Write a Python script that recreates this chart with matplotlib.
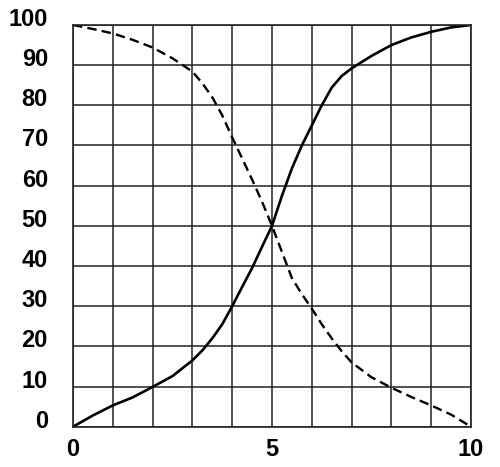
import matplotlib.pyplot as plt
import matplotlib.transforms as mtransforms

x_rise = [0, 0.5, 1, 1.5, 2, 2.5, 3, 3.25, 3.5, 3.75, 4, 4.25, 4.5, 4.75, 5,
          5.25, 5.5, 5.75, 6, 6.25, 6.5, 6.75, 7, 7.5, 8, 8.5, 9, 9.5, 10]
rising = [0, 2.8, 5.3, 7.3, 9.9, 12.6, 16.5, 19, 22, 25.5, 30, 34.8, 39.5, 44.8, 50,
          57.5, 64.3, 70, 75, 80, 84.4, 87.3, 89.2, 92.3, 95, 96.9, 98.3, 99.4, 100]

x_fall = [0, 0.5, 1, 1.5, 2, 2.5, 3, 3.25, 3.5, 3.75, 4, 4.25, 4.5, 4.75, 5,
          5.25, 5.5, 5.75, 6, 6.25, 6.5, 6.75, 7, 7.5, 8, 8.5, 9, 9.5, 10]
falling = [100, 99, 97.9, 96.3, 94.4, 91.7, 88.4, 85.5, 82, 77.5, 72, 66.8, 61.5, 56, 50,
           43.5, 37, 33, 29.4, 25.5, 22, 18.8, 16, 12.3, 9.7, 7.4, 5.3, 3, 0]

x_ticks = [0, 5, 10]
y_ticks = [0, 10, 20, 30, 40, 50, 60, 70, 80, 90, 100]

plt.rcParams['font.family'] = ['Liberation Sans', 'DejaVu Sans']

fig = plt.figure(figsize=(5, 4.67), dpi=100)
ax = fig.add_axes([0.146, 0.0863, 0.796, 0.8602])

ax.plot(x_rise, rising, color='black', lw=1.9, solid_joinstyle='round')
ax.plot(x_fall, falling, color='black', lw=1.7, dashes=(4, 2.2))

ax.set_xlim(0, 10)
ax.set_ylim(0, 100)
ax.set_xticks(range(11), minor=True)
ax.set_xticks(x_ticks)
ax.set_yticks(y_ticks)
ax.grid(True, which='both', color='#222222', lw=1.1)
ax.tick_params(which='both', length=0)
ax.tick_params(axis='y', pad=18, labelsize=17)
ax.tick_params(axis='x', pad=8, labelsize=17)
for spine in ax.spines.values():
    spine.set_color('#222222')
    spine.set_linewidth(1.2)

shift = mtransforms.ScaledTranslation(0, 8 / 100, fig.dpi_scale_trans)
for lab in ax.get_yticklabels():
    lab.set_fontweight('bold')
    lab.set_transform(lab.get_transform() + shift)
for lab in ax.get_xticklabels():
    lab.set_fontweight('bold')

fig.savefig('out.png', dpi=100)
